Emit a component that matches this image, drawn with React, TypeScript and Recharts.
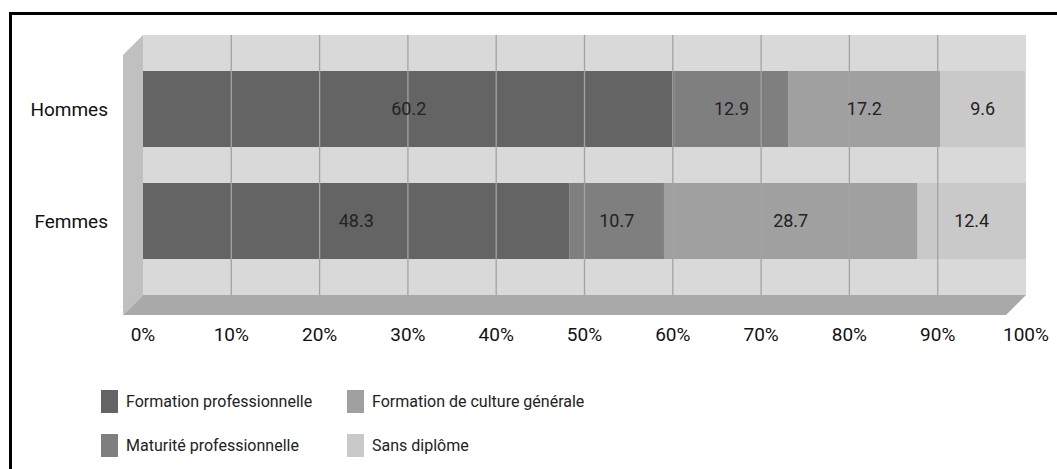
import React from 'react';
import { BarChart, Bar, XAxis, YAxis, ReferenceArea, ReferenceLine, LabelList } from 'recharts';

const categories = ['Hommes', 'Femmes'];
const formationPro = [60.2, 48.3];
const maturitePro = [12.9, 10.7];
const cultureGen = [17.2, 28.7];
const sansDiplome = [9.6, 12.4];
const xTicks = [0, 10, 20, 30, 40, 50, 60, 70, 80, 90, 100];
const gridTicks = [10, 20, 30, 40, 50, 60, 70, 80, 90];

const seriesKeys = ['formationPro', 'maturitePro', 'cultureGen', 'sansDiplome'];
const seriesNames = [
  'Formation professionnelle',
  'Maturité professionnelle',
  'Formation de culture générale',
  'Sans diplôme',
];
const seriesColors = ['#646464', '#7f7f7f', '#a0a0a0', '#c9c9c9'];
// legend order (column-major in reference): pro, maturité | culture, sans
const legendOrder = [0, 2, 1, 3];

const data = categories.map((name, i) => ({
  name,
  formationPro: formationPro[i],
  maturitePro: maturitePro[i],
  cultureGen: cultureGen[i],
  sansDiplome: sansDiplome[i],
}));

const FONT = 'Roboto, "DejaVu Sans", sans-serif';
const DEPTH = 20;
const PAD = 18;

const Box3D = (props: any) => {
  const { x, width } = props;
  const y = props.y - PAD;
  const height = props.height + 2 * PAD;
  const d = DEPTH;
  const side = `${x},${y} ${x},${y + height} ${x - d},${y + height + d} ${x - d},${y + d}`;
  const floor = `${x},${y + height} ${x + width},${y + height} ${x + width - d},${y + height + d} ${x - d},${y + height + d}`;
  return (
    <g>
      <rect x={x} y={y} width={width} height={height} fill="#d9d9d9" />
      <polygon points={side} fill="#c0c0c0" />
      <polygon points={floor} fill="#a9a9a9" />
    </g>
  );
};

export default function App() {
  return (
    <div style={{ position: 'absolute', left: 0, top: 0, width: 1057, height: 469, background: '#fff', fontFamily: FONT }}>
      <div
        style={{
          position: 'absolute',
          left: 9,
          top: 12,
          width: 1048,
          height: 457,
          borderTop: '3px solid #000',
          borderLeft: '3px solid #000',
          boxSizing: 'border-box',
        }}
      />
      <div style={{ position: 'absolute', left: 0, top: 0 }}>
        <BarChart
          width={1057}
          height={469}
          data={data}
          layout="vertical"
          margin={{ top: 35, right: 31, bottom: 114, left: 0 }}
          barCategoryGap={18}
        >
          <XAxis
            type="number"
            domain={[0, 100]}
            allowDataOverflow
            ticks={xTicks}
            tickFormatter={(v: number) => `${v}%`}
            axisLine={false}
            tickLine={false}
            tickSize={0}
            tickMargin={33}
            height={60}
            interval={0}
            tick={{ fill: '#111', fontSize: 19, fontFamily: FONT }}
          />
          <YAxis
            type="category"
            dataKey="name"
            width={143}
            axisLine={false}
            tickLine={false}
            tickSize={0}
            tickMargin={35}
            padding={{ top: PAD, bottom: PAD }}
            tick={{ fill: '#111', fontSize: 19, fontFamily: FONT }}
          />
          <ReferenceArea x1={0} x2={100} ifOverflow="visible" shape={Box3D} zIndex={-200} />
          {seriesKeys.map((k, i) => (
            <Bar key={k} dataKey={k} name={seriesNames[i]} stackId="a" fill={seriesColors[i]} isAnimationActive={false}>
              <LabelList dataKey={k} position="center" fill="#222" fontSize={18} fontFamily={FONT} />
            </Bar>
          ))}
          {gridTicks.map((t) => (
            <ReferenceLine key={t} x={t} stroke="#a3a3a3" strokeWidth={1.3} zIndex={1500} />
          ))}
        </BarChart>
      </div>
      <div
        style={{
          position: 'absolute',
          left: 101,
          top: 389,
          display: 'grid',
          gridTemplateColumns: '246px 300px',
          rowGap: 20,
        }}
      >
        {legendOrder.map((idx) => (
          <div key={idx} style={{ display: 'flex', alignItems: 'center', height: 24 }}>
            <div style={{ width: 17, height: 23, background: seriesColors[idx], marginRight: 8 }} />
            <span style={{ fontSize: 16, color: '#222' }}>{seriesNames[idx]}</span>
          </div>
        ))}
      </div>
    </div>
  );
}
